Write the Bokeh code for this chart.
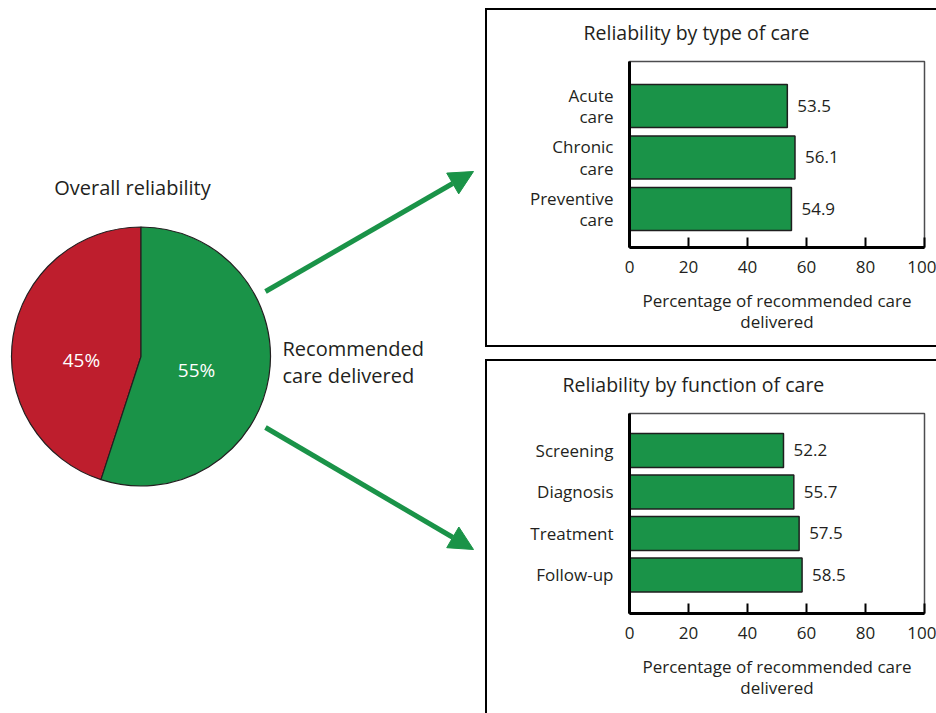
import math
from bokeh.plotting import figure
from bokeh.models import ColumnDataSource, Range1d, FixedTicker, LinearAxis, Arrow, NormalHead, Spacer
from bokeh.layouts import row, column
from bokeh.core.properties import value
from bokeh.embed import file_html
from bokeh.resources import INLINE

# ---------------- data ----------------
pie_values = [45, 55]
pie_labels = ["45%", "55%"]

type_title = "Reliability by type of care"
type_categories = ["Acute\ncare", "Chronic\ncare", "Preventive\ncare"]
type_values = [53.5, 56.1, 54.9]

function_title = "Reliability by function of care"
function_categories = ["Screening", "Diagnosis", "Treatment", "Follow-up"]
function_values = [52.2, 55.7, 57.5, 58.5]

x_ticks = [0, 20, 40, 60, 80, 100]
x_label = "Percentage of recommended care\ndelivered"

# ---------------- style ----------------
FONT = "Open Sans"
TEXT = "#231f20"
GREEN = "#1a9348"
RED = "#be1e2d"
pie_colors = [RED, GREEN]
pie_label_dy = [13, 4]

# ---------------- left: pie + arrows ----------------
LW, LH = 485, 713


def px(x):
    return x


def py(y):
    return LH - y


left = figure(width=LW, height=LH, x_range=Range1d(0, LW), y_range=Range1d(0, LH),
              output_backend="svg", toolbar_location=None, min_border=0,
              x_axis_location=None, y_axis_location=None,
              outline_line_color=None, background_fill_color="white",
              border_fill_color="white")
left.grid.visible = False

cx, cy, r = px(140.5), py(356), 129.5
total = sum(pie_values)
starts, ends, lx, ly = [], [], [], []
a = math.pi / 2
for v in pie_values:
    b = a + 2 * math.pi * v / total
    starts.append(a)
    ends.append(b)
    m = (a + b) / 2
    lx.append(cx + 0.45 * r * math.cos(m))
    ly.append(cy + 0.45 * r * math.sin(m))
    a = b

pie_src = ColumnDataSource(dict(start=starts, end=ends, color=pie_colors,
                                lx=lx, ly=ly, label=pie_labels, dy=pie_label_dy))
left.wedge(x=cx, y=cy, radius=r, start_angle="start", end_angle="end",
           fill_color="color", line_color=TEXT, line_width=1.2, source=pie_src)
left.text(x="lx", y="ly", text="label", source=pie_src, text_color="white",
          text_font=value(FONT), text_font_size="19px", text_align="center",
          text_baseline="middle", y_offset="dy", x_offset=-2)

left.text(x=[px(132)], y=[py(187)], text=["Overall reliability"], text_color=TEXT,
          text_font=value(FONT), text_font_size="20px", text_align="center",
          text_baseline="middle")
left.text(x=[px(282), px(282)], y=[py(348), py(375)],
          text=["Recommended", "care delivered"], text_color=TEXT,
          text_font=value(FONT), text_font_size="20px", text_align="left",
          text_baseline="middle")

for (x0, y0, x1, y1) in [(265, 291, 473, 171), (265, 427, 473, 549)]:
    left.add_layout(Arrow(end=NormalHead(size=24, fill_color=GREEN, line_color=GREEN, line_width=1),
                          x_start=px(x0), y_start=py(y0), x_end=px(x1), y_end=py(y1),
                          line_color=GREEN, line_width=5))

RW = 936 - LW


# ---------------- right: bar panels ----------------
def panel(title, cats, vals, h, ml, mr, mb, y0, y1, bar_h, title_offset, shadow):
    n = len(cats)
    pos = list(range(n, 0, -1))
    p = figure(width=RW, height=h, x_range=Range1d(0, 100), y_range=Range1d(y0, y1),
               output_backend="svg", toolbar_location=None,
               min_border_left=ml, min_border_right=mr, min_border_top=61, min_border_bottom=mb,
               x_axis_location=None, y_axis_location=None,
               border_fill_color=None, background_fill_color="white",
               outline_line_color="#4d4d4f", outline_line_width=1.5,
               title=title, styles={"box-shadow": shadow})
    p.grid.visible = False
    p.title.align = "left"
    p.title.offset = title_offset
    p.title.text_font = FONT
    p.title.text_font_size = "19.5px"
    p.title.text_font_style = "normal"
    p.title.text_color = TEXT
    p.title.standoff = 32

    src = ColumnDataSource(dict(y=pos, v=vals, lbl=[f"{v:.1f}" for v in vals]))
    p.hbar(y="y", left=0, right="v", height=bar_h, fill_color=GREEN,
           line_color="#1e1e1e", line_width=1.5, source=src)
    p.text(x="v", y="y", text="lbl", x_offset=10, text_align="left", text_baseline="middle",
           text_font=value(FONT), text_font_size="17px", text_color=TEXT, source=src)

    xa = LinearAxis(ticker=FixedTicker(ticks=x_ticks), axis_label=x_label,
                    axis_line_color="black", axis_line_width=3,
                    major_tick_in=10, major_tick_out=0, major_tick_line_width=2,
                    major_tick_line_color="black", minor_tick_line_color=None,
                    major_label_text_font=FONT, major_label_text_font_size="17px",
                    major_label_text_color=TEXT, major_label_standoff=13,
                    axis_label_text_font=FONT, axis_label_text_font_size="17px",
                    axis_label_text_font_style="normal", axis_label_text_color=TEXT,
                    axis_label_standoff=13, axis_label_text_line_height=0.93)
    p.add_layout(xa, "below")
    ya = LinearAxis(ticker=FixedTicker(ticks=pos),
                    major_label_overrides={k: c for k, c in zip(pos, cats)},
                    axis_line_color="black", axis_line_width=3,
                    major_tick_in=0, major_tick_out=0, major_tick_line_color=None,
                    minor_tick_line_color=None,
                    major_label_text_font=FONT, major_label_text_font_size="17px",
                    major_label_text_color=TEXT, major_label_standoff=16,
                    major_label_text_line_height=0.95)
    p.add_layout(ya, "left")
    return p


top = panel(type_title, type_categories, type_values, 347, 144, 12, 100,
            0.252, 3.864, 0.835, -46,
            "inset 0 8px 0 0 #fff, inset 2px 10px 0 0 #000, inset 0 -2px 0 0 #000")
bottom = panel(function_title, function_categories, function_values, 361, 144, 12, 100,
               0.07, 4.89, 0.82, -67,
               "inset 0 7px 0 0 #fff, inset 2px 9px 0 0 #000")

layout = row(left, column(top, Spacer(width=RW, height=5), bottom))

open("out.html", "w").write(file_html(layout, INLINE))
